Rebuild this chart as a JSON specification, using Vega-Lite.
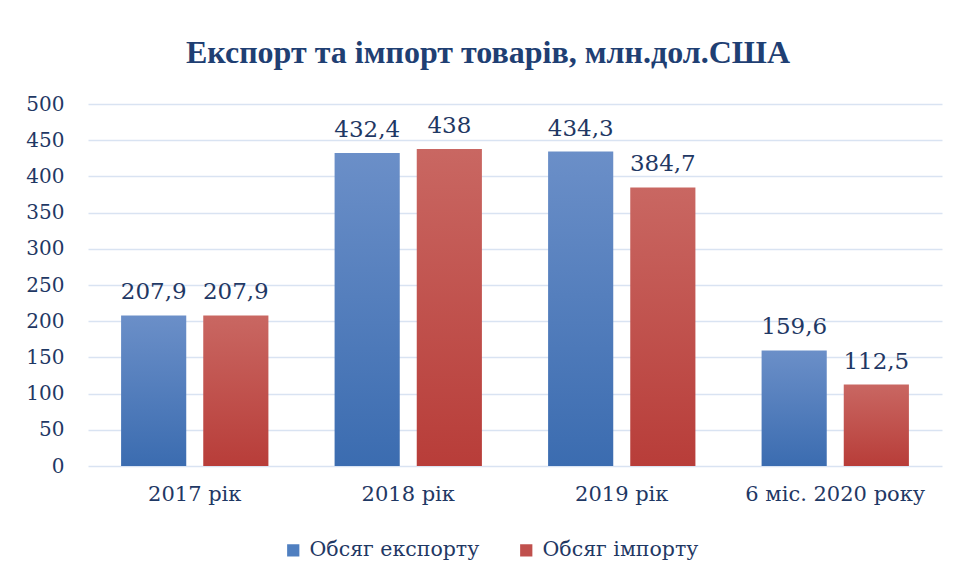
{
  "$schema": "https://vega.github.io/schema/vega-lite/v6.json",
  "width": 854,
  "height": 362,
  "autosize": "none",
  "padding": {"left": 88, "top": 104, "right": 13, "bottom": 119},
  "background": "white",
  "title": {
    "text": "Експорт та імпорт товарів, млн.дол.США",
    "font": "Liberation Serif",
    "fontSize": 32,
    "fontWeight": "bold",
    "color": "#1f3f73",
    "anchor": "middle",
    "baseline": "bottom",
    "dx": -27,
    "dy": 34,
    "offset": 26
  },
  "config": {
    "locale": {"number": {"decimal": ",", "thousands": " ", "grouping": [3], "currency": ["", ""]}},
    "view": {"stroke": null},
    "font": "DejaVu Serif"
  },
  "data": {
    "values": [
      {"period": "2017 рік", "series": "Обсяг експорту", "value": 207.9},
      {"period": "2017 рік", "series": "Обсяг імпорту", "value": 207.9},
      {"period": "2018 рік", "series": "Обсяг експорту", "value": 432.4},
      {"period": "2018 рік", "series": "Обсяг імпорту", "value": 438},
      {"period": "2019 рік", "series": "Обсяг експорту", "value": 434.3},
      {"period": "2019 рік", "series": "Обсяг імпорту", "value": 384.7},
      {"period": "6 міс. 2020 року", "series": "Обсяг експорту", "value": 159.6},
      {"period": "6 міс. 2020 року", "series": "Обсяг імпорту", "value": 112.5}
    ]
  },
  "encoding": {
    "x": {
      "field": "period", "type": "nominal", "sort": null,
      "scale": {"paddingInner": 0.31, "paddingOuter": 0.155},
      "axis": {"title": null, "labelAngle": 0, "ticks": false, "domain": false, "labelFont": "DejaVu Serif", "labelFontSize": 21, "labelColor": "#1f3864", "labelPadding": 17}
    },
    "xOffset": {
      "field": "series", "type": "nominal",
      "scale": {"domain": ["Обсяг експорту", "Обсяг імпорту"], "paddingInner": 0.207, "paddingOuter": 0}
    },
    "y": {
      "field": "value", "type": "quantitative",
      "scale": {"domain": [0, 500], "nice": false},
      "axis": {"title": null, "values": [0, 50, 100, 150, 200, 250, 300, 350, 400, 450, 500], "ticks": false, "domain": false, "gridColor": "#d9e3f2", "gridWidth": 1.5, "labelFont": "DejaVu Serif", "labelFontSize": 20, "labelColor": "#1f3864", "labelPadding": 24}
    }
  },
  "layer": [
    {
      "mark": {"type": "bar", "opacity": 0},
      "encoding": {
        "color": {
          "field": "series", "type": "nominal",
          "scale": {"domain": ["Обсяг експорту", "Обсяг імпорту"], "range": ["#4f7fc0", "#c0504d"]},
          "legend": {
            "title": null, "orient": "none", "legendX": 195, "legendY": 436, "direction": "horizontal",
            "symbolType": "square", "symbolSize": 150, "symbolOpacity": 1, "symbolStrokeWidth": 0,
            "labelFont": "DejaVu Serif", "labelFontSize": 20.5, "labelColor": "#1f3864", "labelLimit": 400,
            "columnPadding": 36, "labelOffset": 6
          }
        }
      }
    },
    {
      "mark": {"type": "bar"},
      "encoding": {
        "fill": {
          "condition": {
            "test": "datum.series === 'Обсяг експорту'",
            "value": {"gradient": "linear", "x1": 0, "y1": 0, "x2": 0, "y2": 1, "stops": [{"offset": 0, "color": "#6b8fc8"}, {"offset": 1, "color": "#3b6cb0"}]}
          },
          "value": {"gradient": "linear", "x1": 0, "y1": 0, "x2": 0, "y2": 1, "stops": [{"offset": 0, "color": "#c96762"}, {"offset": 1, "color": "#b83d39"}]}
        }
      }
    },
    {
      "mark": {"type": "text", "baseline": "bottom", "dy": -11, "font": "DejaVu Serif", "fontSize": 23, "color": "#1f3864"},
      "encoding": {
        "text": {"field": "value", "type": "quantitative", "format": "~f"}
      }
    }
  ]
}
